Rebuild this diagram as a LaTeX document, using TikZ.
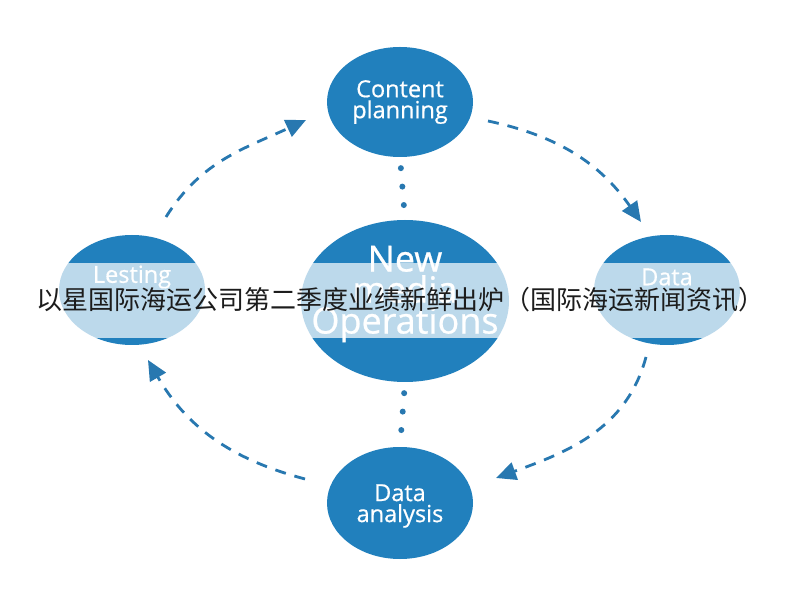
\documentclass[tikz,border=0pt]{standalone}
\usepackage{fontspec}
\setmainfont{Open Sans}
\newfontfamily\lblfont[FakeBold=0.6]{Open Sans}
\newfontfamily\cjk{Noto Sans CJK SC}
\usetikzlibrary{shapes.geometric,arrows.meta}
\definecolor{cblue}{RGB}{33,128,189}
\definecolor{ablue}{RGB}{40,120,176}
\definecolor{ink}{RGB}{28,28,28}
\tikzset{
  bubble/.style={ellipse,fill=cblue,draw=none,inner sep=0pt,minimum width=146pt,minimum height=110pt},
  lbl/.style={text=white,align=center,font=\lblfont\fontsize{23.5}{21}\selectfont},
  flow/.style={draw=ablue,line width=2.8pt,dash pattern=on 11pt off 9pt,
    -{Triangle[length=20pt,width=18pt,fill=ablue]}},
  dotline/.style={draw=ablue,line width=6pt,line cap=round,dash pattern=on 0pt off 18.5pt,
    shorten <=11pt,shorten >=14pt}
}
\begin{document}
\begin{tikzpicture}[x=1pt,y=1pt]
\useasboundingbox (0,0) rectangle (800,600);
\fill[white] (0,0) rectangle (800,600);
% nodes
\node[bubble] (T) at (400,498) {};
\node[bubble,minimum width=208pt,minimum height=162pt] (C) at (405,299) {};
\node[bubble] (L) at (132,310) {};
\node[bubble] (R) at (667,310) {};
\node[bubble,minimum height=112pt] (B) at (400,97) {};
% labels
\node[lbl] (tT) at (400,498) {Content\\planning};
\node[lbl] (tB) at (400,94) {Data\\analysis};
\node[lbl] (tL) at (132,323) {Lesting};
\node[lbl] (tR) at (667,323) {Data};
\node[lbl,font=\lblfont\fontsize{36}{31}\selectfont] (tC) at (405,306) {New\\media\\Operations};
% dotted links
\draw[dotline] (T.south) -- (C.north);
\draw[dotline] (C.south) -- (B.north);
% arrow end points
\coordinate (a1) at (166,383);
\coordinate (a2) at (306,480);
\coordinate (b1) at (488,479);
\coordinate (b2) at (641,378);
\coordinate (c1) at (646,243);
\coordinate (c2) at (496,122);
\coordinate (d1) at (305,121);
\coordinate (d2) at (148,240);
\draw[flow] (a1) to[out=58,in=205] (a2);
\draw[flow] (b1) to[out=-12,in=125] (b2);
\draw[flow] (c1) to[out=-105,in=20] (c2);
\draw[flow] (d1) to[out=165,in=-60] (d2);
% translucent band
\fill[white,opacity=0.7] (0,262) rectangle (800,337);
\node[text=ink,font=\cjk\fontsize{26}{26}\selectfont,inner sep=0pt] (title) at (400,300)
  {以星国际海运公司第二季度业绩新鲜出炉（国际海运新闻资讯）};
\end{tikzpicture}
\end{document}
